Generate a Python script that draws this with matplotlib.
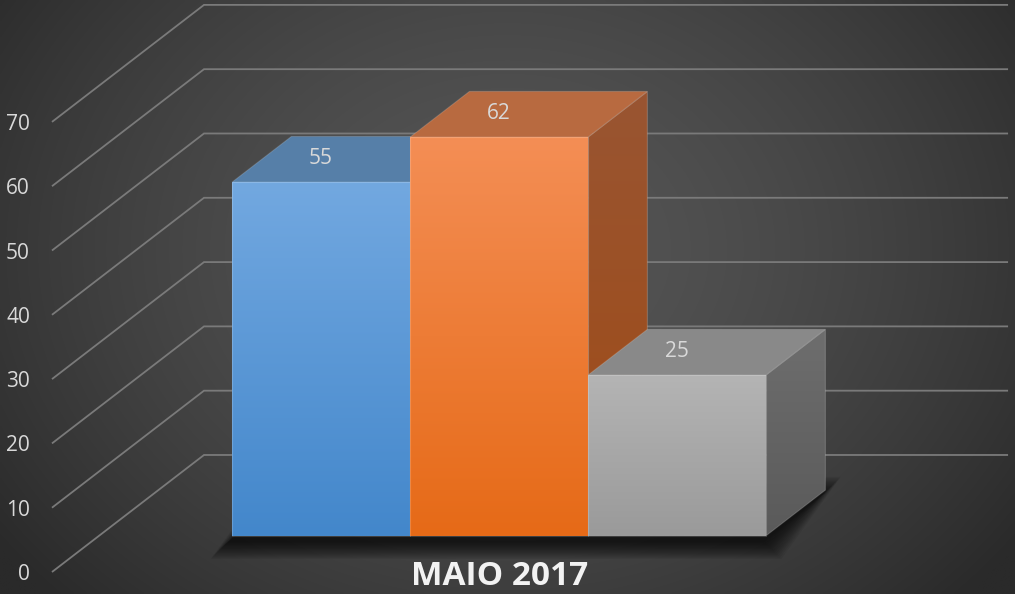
import numpy as np
import matplotlib
matplotlib.use("Agg")
import matplotlib.pyplot as plt
from matplotlib.patches import Polygon
from matplotlib.colors import to_rgb

# ---------------- data ----------------
categories = ["MAIO 2017"]
values = [55, 62, 25]
y_ticks = [0, 10, 20, 30, 40, 50, 60, 70]
tick_labels = [str(t) for t in y_ticks]

# ---------------- styles ----------------
front_top = ["#72A8E0", "#F48E55", "#B4B4B4"]
front_bot = ["#4387CB", "#E66A17", "#9A9A9A"]
top_col = ["#567FA8", "#B86A40", "#898989"]
side_top = ["#45678A", "#995532", "#6E6E6E"]
side_bot = ["#3A5F85", "#A04B15", "#5A5A5A"]
text_col = "#D9D9D9"
grid_col = "#7A7A7A"

W, H, DPI = 10.15, 5.94, 100
fig = plt.figure(figsize=(W, H), dpi=DPI)
fig.patch.set_facecolor("#3a3a3a")
ax = fig.add_axes([0, 0, 1, 1])
XLIM = (-2.539, 3.163)
YLIM = (-3.42, 88.96)
ax.axis("off")

# oblique projection (depth offset in data units)
DX, DY = 0.854, 18.2
F0, F1 = 0.31, 0.70          # bar front / back depth
XL, XR = -2.247, 2.270       # wall extent
px_x = W * DPI / (XLIM[1] - XLIM[0])
px_y = H * DPI / (YLIM[1] - YLIM[0])


def P(x, v, d):
    return (x + d * DX, v + d * DY)


# ---------------- background ----------------
gx, gy = np.meshgrid(np.linspace(0, 1, 400), np.linspace(1, 0, 240))
r = np.sqrt(((gx - 0.5) / 0.62) ** 2 + ((gy - 0.58) / 0.85) ** 2)
r = np.clip(r, 0, 1)
c_center = np.array(to_rgb("#555555"))
c_edge = np.array(to_rgb("#2a2a2a"))
bg = c_center + (c_edge - c_center) * (r[..., None] ** 1.6)
ax.imshow(bg, extent=(0, 1, 0, 1), transform=ax.transAxes, aspect="auto",
          zorder=0, interpolation="bilinear")

# ---------------- walls / grid ----------------
for t, lab in zip(y_ticks, tick_labels):
    pts = [P(XL, t, 0), P(XL, t, 1), P(XR, t, 1)]
    ax.plot([p[0] for p in pts], [p[1] for p in pts], color=grid_col,
            lw=1.3, zorder=1, solid_joinstyle="miter", solid_capstyle="butt")
    ax.annotate(lab, xy=P(XL, t, 0), xytext=(-22, 0), textcoords="offset pixels",
                ha="right", va="center_baseline", fontsize=15, color=text_col,
                family="Open Sans", zorder=5)


def grad_face(verts, c1, c2, z):
    poly = Polygon(verts, closed=True, facecolor="none", edgecolor="none", zorder=z)
    ax.add_patch(poly)
    xs = [p[0] for p in verts]
    ys = [p[1] for p in verts]
    t = np.linspace(0, 1, 128)[:, None, None]
    a, b = np.array(to_rgb(c1)), np.array(to_rgb(c2))
    img = a + (b - a) * t
    img = np.repeat(img, 2, axis=1)
    im = ax.imshow(img, extent=(min(xs), max(xs), min(ys), max(ys)), origin="upper",
                   aspect="auto", zorder=z, interpolation="bilinear")
    im.set_clip_path(poly)
    edge = Polygon(verts, closed=True, facecolor="none", edgecolor=(1, 1, 1, 0.18),
                   lw=0.8, zorder=z + 0.01)
    ax.add_patch(edge)


def flat_face(verts, c, z):
    ax.add_patch(Polygon(verts, closed=True, facecolor=c,
                         edgecolor=(1, 1, 1, 0.15), lw=0.8, zorder=z))


# ---------------- shadow ----------------
n = len(values)
x_left, x_right = -n / 2, n / 2
foot = [P(x_left, 0, F0), P(x_right, 0, F0), P(x_right, 0, F1), P(x_left, 0, F1)]
cx = np.mean([p[0] for p in foot])
cy = np.mean([p[1] for p in foot])
for k in range(14):
    e = (14 - k) * 1.3
    sx, sy = -3 / px_x, -5 / px_y
    pts = []
    for (x, y) in foot:
        ux = np.sign(x - cx) * e / px_x
        uy = np.sign(y - cy) * e / px_y
        pts.append((x + ux + sx, y + uy + sy))
    ax.add_patch(Polygon(pts, closed=True, facecolor=(0, 0, 0, 0.065),
                         edgecolor="none", zorder=2))

# ---------------- bars ----------------
for i, v in enumerate(values):
    xl = x_left + i
    xr = xl + 1
    z = 3 + i
    side = [P(xr, v, F0), P(xr, v, F1), P(xr, 0, F1), P(xr, 0, F0)]
    grad_face(side, side_top[i], side_bot[i], z)
    top = [P(xl, v, F0), P(xr, v, F0), P(xr, v, F1), P(xl, v, F1)]
    flat_face(top, top_col[i], z + 0.1)
    front = [P(xl, v, F0), P(xr, v, F0), P(xr, 0, F0), P(xl, 0, F0)]
    grad_face(front, front_top[i], front_bot[i], z + 0.2)
    ax.annotate(str(v), xy=P((xl + xr) / 2, v, F0), xytext=(0, 26),
                textcoords="offset pixels", ha="center", va="center_baseline",
                fontsize=15, color=text_col, family="Open Sans", zorder=10)

# ---------------- category label ----------------
cat_x = P(0, 0, F0)[0]
ax.annotate(categories[0], xy=(cat_x, YLIM[0]), xytext=(0, 1),
            textcoords="offset pixels", ha="center", va="bottom", fontsize=24,
            fontweight="bold", color="#F2F2F2", family="Open Sans", zorder=10)

ax.set_xlim(*XLIM)
ax.set_ylim(*YLIM)
fig.savefig("out.png", dpi=DPI, facecolor=fig.get_facecolor())
